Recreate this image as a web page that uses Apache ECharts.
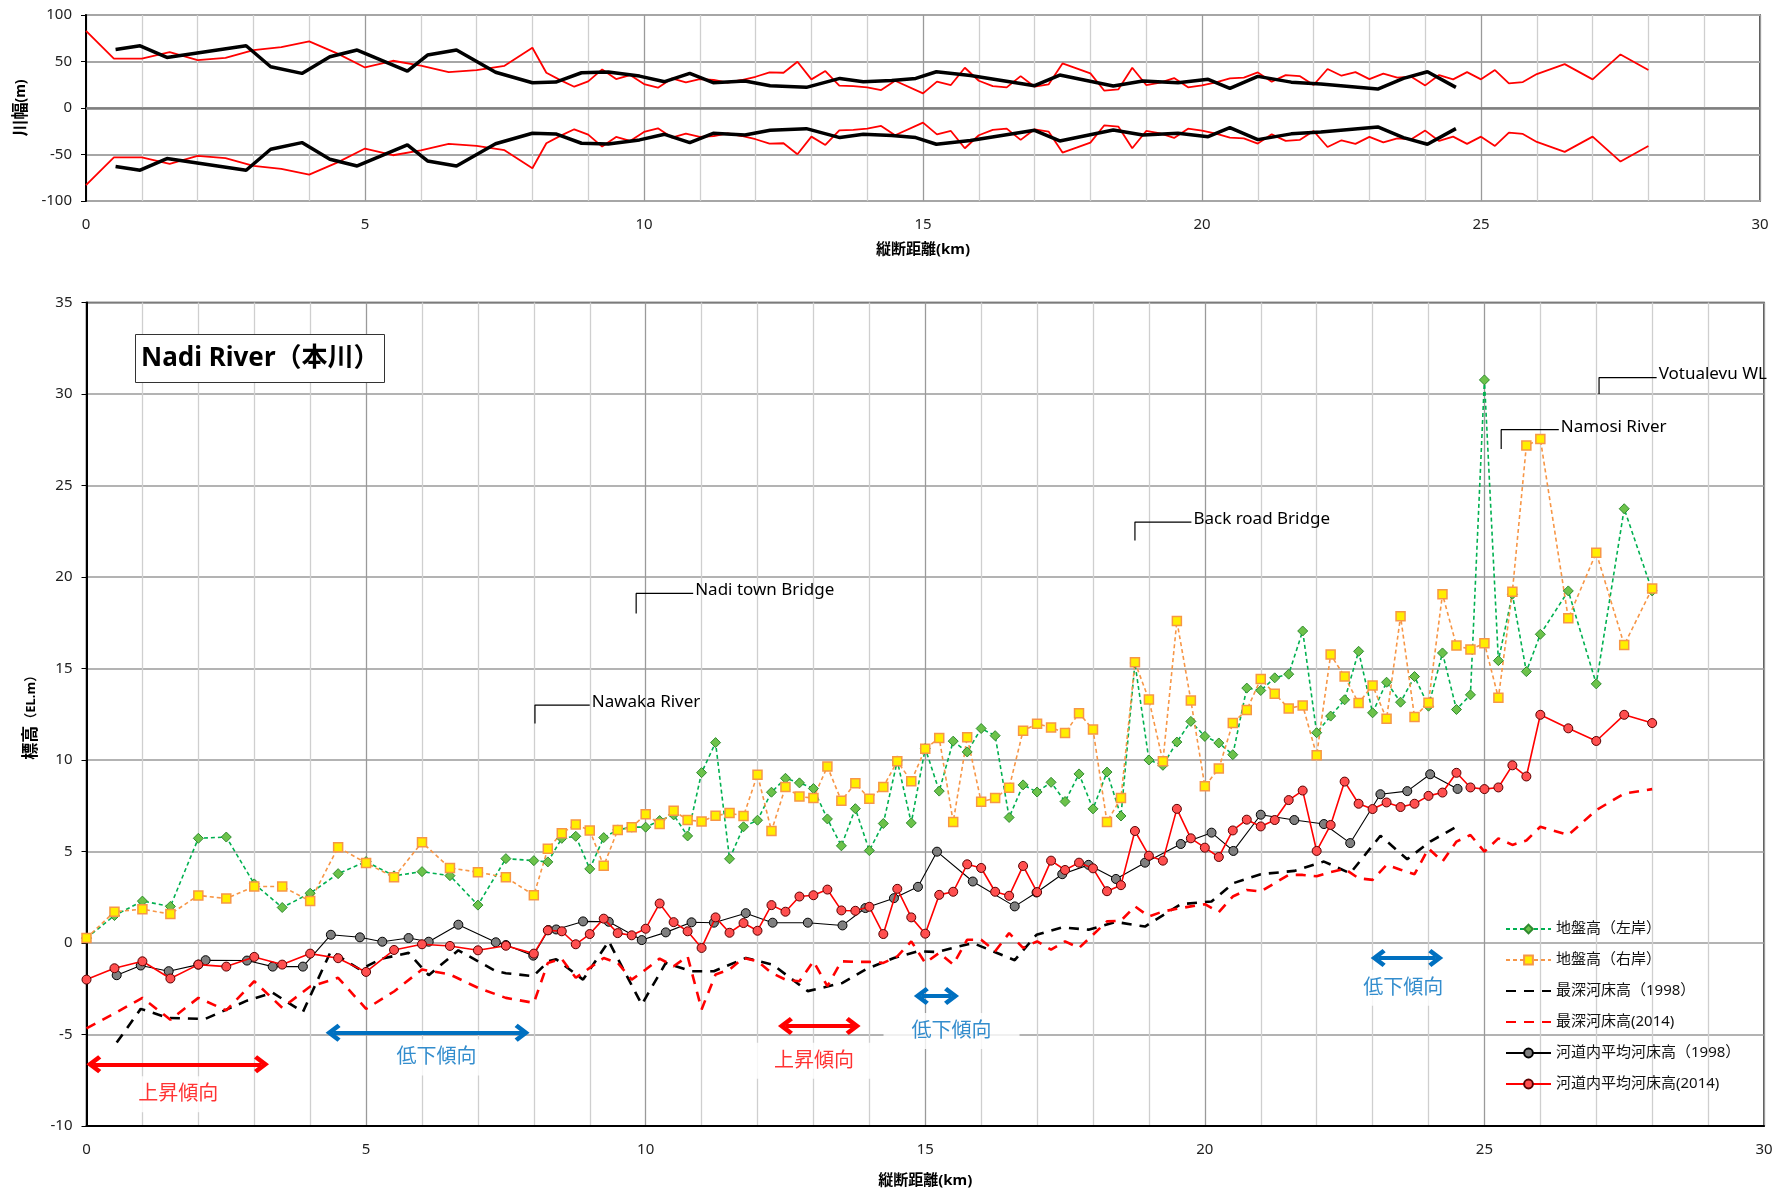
<!DOCTYPE html>
<html><head><meta charset="utf-8">
<script src="https://cdn.jsdelivr.net/npm/echarts@6/dist/echarts.min.js"></script>
<style>html,body{margin:0;padding:0;background:#fff}#c{width:1785px;height:1193px}</style>
</head><body><div id="c"></div>
<script>
// ---------- Top chart: river width (half-widths, m) ----------
const widthKm2014 = [0,0.5,1,1.5,2,2.5,3,3.5,4,4.5,5,5.5,6,6.5,7,7.5,8,8.25,8.5,8.75,9,9.25,9.5,9.75,10,10.25,10.5,10.75,11,11.25,11.5,11.75,12,12.25,12.5,12.75,13,13.25,13.5,13.75,14,14.25,14.5,15,15.25,15.5,15.75,16,16.25,16.5,16.75,17,17.25,17.5,17.75,18,18.25,18.5,18.75,19,19.25,19.5,19.75,20,20.25,20.5,20.75,21,21.25,21.5,21.75,22,22.25,22.5,22.75,23,23.25,23.5,23.75,24,24.25,24.5,24.75,25,25.25,25.5,25.75,26,26.5,27,27.5,28];
const width2014 = [83,53,53,60,51.5,54,62.3,65.5,71.6,58.7,43.6,50.8,45.5,38.6,40.8,45.4,64.8,37.9,30,22.9,28.6,41.5,31.1,35.4,25.8,21.8,31.8,27.5,31.1,30.1,27.2,30.1,33.6,38.3,37.9,49.7,30.8,39.7,24,23.6,22.2,19.3,29.3,15.7,28.3,24.7,43.3,29.3,23.6,22.2,34.3,22.9,25.4,47.9,42.7,37.2,18.6,20,43.3,24.7,27.2,32.2,22.2,24.3,27.5,31.8,32.6,38.3,28.3,35.4,34.3,24.7,41.9,34.7,38.6,31.1,36.9,32.6,33.6,24.3,35.4,30.8,38.6,30.8,40.8,26.5,27.9,36.5,47.2,30.8,57.6,40.8];
const widthKm1998 = [0.53,0.97,1.45,2.87,3.31,3.87,4.37,4.86,5.76,6.12,6.64,7.34,8.0,8.42,8.88,9.36,9.92,10.37,10.82,11.24,11.81,12.26,12.91,13.51,13.93,14.44,14.87,15.24,15.85,17.0,17.45,18.41,18.94,19.57,20.11,20.5,21.0,21.6,22.13,23.15,23.61,24.04,24.55];
const width1998 = [63,66.9,54.4,66.9,44.4,37.2,55.1,62.3,39.7,56.9,62.3,38.5,27.2,27.9,37.9,38.6,34.3,28.3,37.2,27.2,29,24,22.2,31.8,28.3,29.5,31.8,39,35,24,35.4,23.6,29,27.2,30.8,21.1,34,27.8,25.8,20.4,31.8,39,22.2];

// ---------- Bottom chart: elevations (EL.m) ----------
const km2014 = [0,0.5,1,1.5,2,2.5,3,3.5,4,4.5,5,5.5,6,6.5,7,7.5,8,
  8.25,8.5,8.75,9,9.25,9.5,9.75,10,10.25,10.5,10.75,11,11.25,11.5,11.75,12,12.25,12.5,12.75,13,13.25,13.5,13.75,14,14.25,14.5,14.75,15,15.25,15.5,15.75,16,16.25,16.5,16.75,17,17.25,17.5,17.75,18,18.25,18.5,18.75,19,19.25,19.5,19.75,20,20.25,20.5,20.75,21,21.25,21.5,21.75,22,22.25,22.5,22.75,23,23.25,23.5,23.75,24,24.25,24.5,24.75,25,25.25,25.5,25.75,26,
  26.5,27,27.5,28];
const groundLeft = [0.27,1.5,2.29,2.0,5.72,5.79,3.23,1.94,2.72,3.79,4.45,3.67,3.9,3.68,2.07,4.61,4.5,
  4.43,5.72,5.83,4.05, 5.76,6.18,6.33,6.33, 6.69,7.0,5.85,9.31, 10.95,4.6,6.35,6.71, 8.24,9.0,8.75,8.44, 6.78,5.31,7.34,5.05, 6.53,9.95,6.56,10.64, 8.3,11.03,10.44,11.72, 11.33,6.86,8.64,8.25, 8.78,7.73,9.24,7.33, 9.34,6.94,15.3,10.0, 9.71,10.98,12.11,11.29, 10.93,10.29,13.93,13.8, 14.49,14.69,17.05,11.49, 12.4,13.29,15.94,12.58, 14.25,13.16,14.56,12.94, 15.85,12.76,13.56,30.77, 15.43,19.06,14.83,16.87,
  19.24,14.16,23.73,19.24];
const groundRight = [0.27,1.71,1.85,1.58,2.6,2.43,3.09,3.09,2.29,5.23,4.37,3.59,5.5,4.1,3.87,3.59,2.61,
  5.15,6.0,6.48,6.15, 4.22,6.17,6.32,7.04, 6.5,7.23,6.72,6.64, 6.95,7.1,6.94,9.2, 6.12,8.53,8.0,7.92, 9.64,7.77,8.73,7.88, 8.53,9.93,8.84,10.62, 11.2,6.61,11.24,7.72, 7.92,8.48,11.6,11.98, 11.78,11.47,12.56,11.66, 6.61,7.92,15.34,13.3, 9.93,17.6,13.25,8.57, 9.53,12.02,12.73,14.43, 13.62,12.82,12.98,10.26, 15.76,14.56,13.11,14.07, 12.25,17.85,12.35,13.13, 19.06,16.25,16.04,16.38, 13.4,19.2,27.18,27.54,
  17.74,21.33,16.29,19.37];
const deepest2014 = [-4.66,-3.85,-3.0,-4.19,-3.0,-3.68,-2.09,-3.54,-2.38,-1.9,-3.6,-2.65,-1.45,-1.72,-2.45,-3.0,-3.27,
  -1.09,-0.87,-1.9,-1.36, -0.82,-1.09,-2.0,-1.45, -0.85,-1.27,-0.73,-3.63, -1.72,-1.45,-0.82,-1.0, -1.63,-2.0,-2.09,-1.0, -2.36,-1.0,-1.03,-1.03, -1.09,-0.73,0.09,-1.09, -0.54,-1.18,0.18,0.18, -0.45,0.54,-0.27,0.09, -0.36,0.09,-0.27,0.45, 1.18,1.22,2.0,1.45, 1.72,1.87,2.0,2.12, 1.69,2.54,2.9,2.81, 3.27,3.72,3.72,3.65, 3.87,4.05,3.54,3.45, 4.27,4.0,3.76,5.17, 4.45,5.54,5.9,4.99, 5.72,5.36,5.6,6.35,
  5.9,7.26,8.17,8.41];
const mean2014 = [-2.0,-1.38,-1.0,-1.94,-1.18,-1.29,-0.76,-1.18,-0.58,-0.83,-1.58,-0.38,-0.07,-0.16,-0.4,-0.15,-0.58,
  0.69,0.64,-0.07,0.49, 1.33,0.54,0.42,0.78, 2.16,1.14,0.64,-0.27, 1.4,0.56,1.09,0.67, 2.07,1.71,2.54,2.61, 2.92,1.78,1.76,1.98, 0.49,2.96,1.4,0.51, 2.63,2.8,4.3,4.1, 2.8,2.58,4.21,2.78, 4.5,3.99,4.39,4.08, 2.83,3.16,6.12,4.77, 4.5,7.33,5.72,5.21, 4.7,6.15,6.74,6.37, 6.72,7.81,8.33,5.03, 6.45,8.82,7.61,7.32, 7.68,7.43,7.61,8.04, 8.22,9.3,8.5,8.41, 8.5,9.71,9.1,12.47,
  11.73,11.04,12.47,12.02];
const km1998 = [0.54,0.97,1.47,2.0,2.13,2.87,3.33,3.87,4.37,4.89,5.29,5.76,6.12,6.65,7.32,7.5,7.99,8.26,8.4,8.88,9.34,9.93,10.36,10.82,11.22,11.79,12.27,12.9,13.52,13.93,14.44,14.87,15.21,15.85,16.6,16.99,17.45,17.92,18.41,18.93,19.57,20.12,20.51,21.0,21.6,22.13,22.6,23.14,23.62,24.03,24.52];
const mean1998 = [-1.76,-1.23,-1.54,-1.18,-0.94,-0.96,-1.29,-1.29,0.45,0.31,0.07,0.27,0.07,1.0,0.04,-0.11,-0.69,0.71,0.74,1.18,1.16,0.16,0.58,1.13,1.11,1.63,1.11,1.11,0.96,1.91,2.45,3.07,4.99,3.36,2.0,2.76,3.76,4.27,3.5,4.39,5.41,6.03,5.03,7.01,6.72,6.5,5.46,8.13,8.3,9.22,8.42];
const deepest1998 = [-5.44,-3.6,-4.1,-4.14,-4.14,-3.15,-2.72,-3.77,-0.45,-1.45,-0.85,-0.54,-1.76,-0.4,-1.54,-1.65,-1.81,-1.0,-0.89,-2.0,0.09,-3.36,-1.09,-1.54,-1.54,-0.82,-1.18,-2.63,-2.18,-1.45,-0.82,-0.45,-0.49,0.0,-0.94,0.45,0.85,0.73,1.15,0.9,2.12,2.27,3.27,3.76,3.94,4.45,3.81,5.86,4.58,5.54,6.39];

// ---------- Annotations ----------
const annName = ['Nawaka River','Nadi town Bridge','Back road Bridge','Namosi River','Votualevu WL'];
const annKm = [8.02, 9.83, 18.75, 25.3, 27.05];
const annLow = [12.0, 18.0, 22.0, 27.0, 30.0];
const annHigh = [13.0, 19.1, 23.0, 28.05, 30.9];
const annEnd = [9.0, 10.85, 19.76, 26.33, 28.08];

const trendText = ['上昇傾向','低下傾向','上昇傾向','低下傾向','低下傾向'];
const trendFrom = [0.13, 4.41, 12.5, 14.93, 23.1];
const trendTo = [3.13, 7.79, 13.71, 15.47, 24.13];
const trendAt = [-6.63, -4.9, -4.54, -2.9, -0.82];
const trendTextKm = [1.64, 6.26, 13.01, 15.47, 23.55];
const trendTextM = [-8.26, -6.26, -6.44, -4.81, -2.45];
const trendUp = [true, false, true, false, false];

const FONT = "'Noto Sans','Noto Sans CJK JP',sans-serif";
const RED = '#FF0000', BLUE = '#0070C0';
function pairs(xs, ys) { return xs.map((x, i) => [x, ys[i]]); }
function neg(a) { return a.map(v => -v); }

const chevron = 'path://M5,0 L10,6.5 L8.2,8.2 L5,4.1 L1.8,8.2 L0,6.5 Z';

const series = [];
// Top chart
series.push({ name: 'w2014u', type: 'line', xAxisIndex: 0, yAxisIndex: 0, data: pairs(widthKm2014, width2014),
  symbol: 'none', lineStyle: { color: RED, width: 1.8 }, itemStyle: { color: RED }, z: 3,
  markLine: { silent: true, symbol: 'none', label: { show: false }, lineStyle: { color: '#7f7f7f', width: 2.5, type: 'solid' }, data: [{ yAxis: 0 }] } });
series.push({ name: 'w2014l', type: 'line', xAxisIndex: 0, yAxisIndex: 0, data: pairs(widthKm2014, neg(width2014)),
  symbol: 'none', lineStyle: { color: RED, width: 1.8 }, itemStyle: { color: RED }, z: 3 });
series.push({ name: 'w1998u', type: 'line', xAxisIndex: 0, yAxisIndex: 0, data: pairs(widthKm1998, width1998),
  symbol: 'none', lineStyle: { color: '#000', width: 3.5 }, itemStyle: { color: '#000' }, z: 4 });
series.push({ name: 'w1998l', type: 'line', xAxisIndex: 0, yAxisIndex: 0, data: pairs(widthKm1998, neg(width1998)),
  symbol: 'none', lineStyle: { color: '#000', width: 3.5 }, itemStyle: { color: '#000' }, z: 4 });

// Bottom chart
const L1 = '地盤高（左岸）', L2 = '地盤高（右岸）', L3 = '最深河床高（1998）', L4 = '最深河床高(2014)', L5 = '河道内平均河床高（1998）', L6 = '河道内平均河床高(2014)';
series.push({ name: L1, type: 'line', xAxisIndex: 1, yAxisIndex: 1, data: pairs(km2014, groundLeft),
  symbol: 'diamond', symbolSize: 10, itemStyle: { color: '#6CC24A', borderColor: '#2E8B2E', borderWidth: 1 },
  lineStyle: { color: '#00B050', width: 1.6, type: [4, 3] }, z: 5 });
series.push({ name: L2, type: 'line', xAxisIndex: 1, yAxisIndex: 1, data: pairs(km2014, groundRight),
  symbol: 'rect', symbolSize: 9, itemStyle: { color: '#FFEE00', borderColor: '#F79646', borderWidth: 1.5 },
  lineStyle: { color: '#F79646', width: 1.6, type: [4, 3] }, z: 5 });
series.push({ name: L3, type: 'line', xAxisIndex: 1, yAxisIndex: 1, data: pairs(km1998, deepest1998),
  symbol: 'none', itemStyle: { color: '#000' }, lineStyle: { color: '#000', width: 2.6, type: [10, 8] }, z: 4 });
series.push({ name: L4, type: 'line', xAxisIndex: 1, yAxisIndex: 1, data: pairs(km2014, deepest2014),
  symbol: 'none', itemStyle: { color: RED }, lineStyle: { color: RED, width: 2.6, type: [10, 8] }, z: 4 });
series.push({ name: L5, type: 'line', xAxisIndex: 1, yAxisIndex: 1, data: pairs(km1998, mean1998),
  symbol: 'circle', symbolSize: 9, itemStyle: { color: '#7F7F7F', borderColor: '#000', borderWidth: 1 },
  lineStyle: { color: '#000', width: 1.1 }, z: 6 });
series.push({ name: L6, type: 'line', xAxisIndex: 1, yAxisIndex: 1, data: pairs(km2014, mean2014),
  symbol: 'circle', symbolSize: 9, itemStyle: { color: '#FF4F4F', borderColor: '#5a0000', borderWidth: 1 },
  lineStyle: { color: RED, width: 1.6 }, z: 7 });

// Annotation brackets
annName.forEach((n, i) => {
  series.push({ name: 'ann' + i, type: 'line', xAxisIndex: 1, yAxisIndex: 1, silent: true,
    data: [[annKm[i], annLow[i]], [annKm[i], annHigh[i]], [annEnd[i], annHigh[i]]],
    symbol: 'none', lineStyle: { color: '#000', width: 1.2 }, itemStyle: { color: '#000' }, z: 8,
    endLabel: { show: true, formatter: n, color: '#000', fontSize: 17, fontFamily: FONT, distance: 2, offset: [0, -3] } });
});

// Trend arrows + labels
series.push({ name: 'trend', type: 'scatter', xAxisIndex: 1, yAxisIndex: 1, silent: true, symbolSize: 0, z: 9,
  data: trendText.map((t, i) => ({ value: [trendTextKm[i], trendTextM[i]],
    label: { show: true, position: 'inside', formatter: t, color: trendUp[i] ? RED : BLUE, fontSize: 20, fontFamily: FONT,
      backgroundColor: '#fff', padding: [8, 28] } })),
  markLine: { silent: true, symbol: [chevron, chevron], symbolSize: [18, 15], label: { show: false },
    data: trendText.map((t, i) => [
      { coord: [trendFrom[i], trendAt[i]], lineStyle: { color: trendUp[i] ? RED : BLUE, width: 4, type: 'solid' } },
      { coord: [trendTo[i], trendAt[i]] }]) } });

const axisLabelStyle = { color: '#222', fontSize: 15, fontFamily: FONT };
const hideSym = { opacity: 0 };

const option = {
  animation: false,
  backgroundColor: '#fff',
  title: { text: 'Nadi River（本川）', left: 135, top: 334, padding: [9, 5, 9, 6], borderColor: '#333', borderWidth: 1,
    backgroundColor: '#fff', textStyle: { fontSize: 26, lineHeight: 31, fontWeight: 'bold', color: '#000', fontFamily: FONT } },
  legend: { data: [L1, L2, { name: L3, itemStyle: hideSym }, { name: L4, itemStyle: hideSym }, L5, L6],
    orient: 'vertical', left: 1500, top: 914, itemWidth: 45, itemHeight: 11, itemGap: 11,
    textStyle: { fontSize: 15, lineHeight: 20, color: '#111', fontFamily: FONT } },
  grid: [
    { left: 86, top: 15, width: 1674, height: 186, show: true, borderColor: '#222', borderWidth: 1.5 },
    { left: 86.5, top: 302.5, width: 1677.5, height: 825.5, show: true, borderColor: '#222', borderWidth: 1.5 }
  ],
  xAxis: [
    { type: 'value', gridIndex: 0, min: 0, max: 30, interval: 5,
      axisLine: { show: false, onZero: false }, axisTick: { show: false },
      axisLabel: Object.assign({ margin: 16 }, axisLabelStyle),
      splitLine: { show: true, lineStyle: { color: '#9a9a9a', width: 1.3 } },
      minorTick: { show: false, splitNumber: 5 }, minorSplitLine: { show: true, lineStyle: { color: '#cfcfcf', width: 1.3 } },
      name: '縦断距離(km)', nameLocation: 'middle', nameGap: 41, nameTextStyle: { fontSize: 15, fontWeight: 'bold', color: '#000', fontFamily: FONT } },
    { type: 'value', gridIndex: 1, min: 0, max: 30, interval: 5,
      axisLine: { show: true, onZero: false, lineStyle: { color: '#000', width: 2 } }, axisTick: { show: false },
      axisLabel: Object.assign({ margin: 16 }, axisLabelStyle),
      splitLine: { show: true, lineStyle: { color: '#9a9a9a', width: 1.3 } },
      minorTick: { show: false, splitNumber: 5 }, minorSplitLine: { show: true, lineStyle: { color: '#cfcfcf', width: 1.3 } },
      name: '縦断距離(km)', nameLocation: 'middle', nameGap: 47, nameTextStyle: { fontSize: 15, fontWeight: 'bold', color: '#000', fontFamily: FONT } }
  ],
  yAxis: [
    { type: 'value', gridIndex: 0, min: -100, max: 100, interval: 50,
      axisLine: { show: true, onZero: false, lineStyle: { color: '#000', width: 2 } },
      axisTick: { show: true, length: 5, lineStyle: { color: '#000' } },
      axisLabel: Object.assign({ margin: 14 }, axisLabelStyle),
      splitLine: { show: true, lineStyle: { color: '#a6a6a6', width: 2 } },
      name: '{a|川幅}{b|(m)}', nameLocation: 'middle', nameGap: 56,
      nameTextStyle: { rich: { a: { fontSize: 17, fontWeight: 'bold', color: '#000', fontFamily: FONT }, b: { fontSize: 14, fontWeight: 'bold', color: '#000', fontFamily: FONT } } } },
    { type: 'value', gridIndex: 1, min: -10, max: 35, interval: 5,
      axisLine: { show: true, onZero: false, lineStyle: { color: '#000', width: 2 } },
      axisTick: { show: true, length: 5, lineStyle: { color: '#000' } },
      axisLabel: Object.assign({ margin: 14 }, axisLabelStyle),
      splitLine: { show: true, lineStyle: { color: '#9a9a9a', width: 1.5 } },
      name: '{a|標高}{b|（EL.m）}', nameLocation: 'middle', nameGap: 44,
      nameTextStyle: { rich: { a: { fontSize: 17, fontWeight: 'bold', color: '#000', fontFamily: FONT }, b: { fontSize: 13, fontWeight: 'bold', color: '#000', fontFamily: FONT } } } }
  ],
  series: series
};

const chart = echarts.init(document.getElementById('c'), null, { renderer: 'canvas' });
chart.setOption(option);
</script>
</body></html>
